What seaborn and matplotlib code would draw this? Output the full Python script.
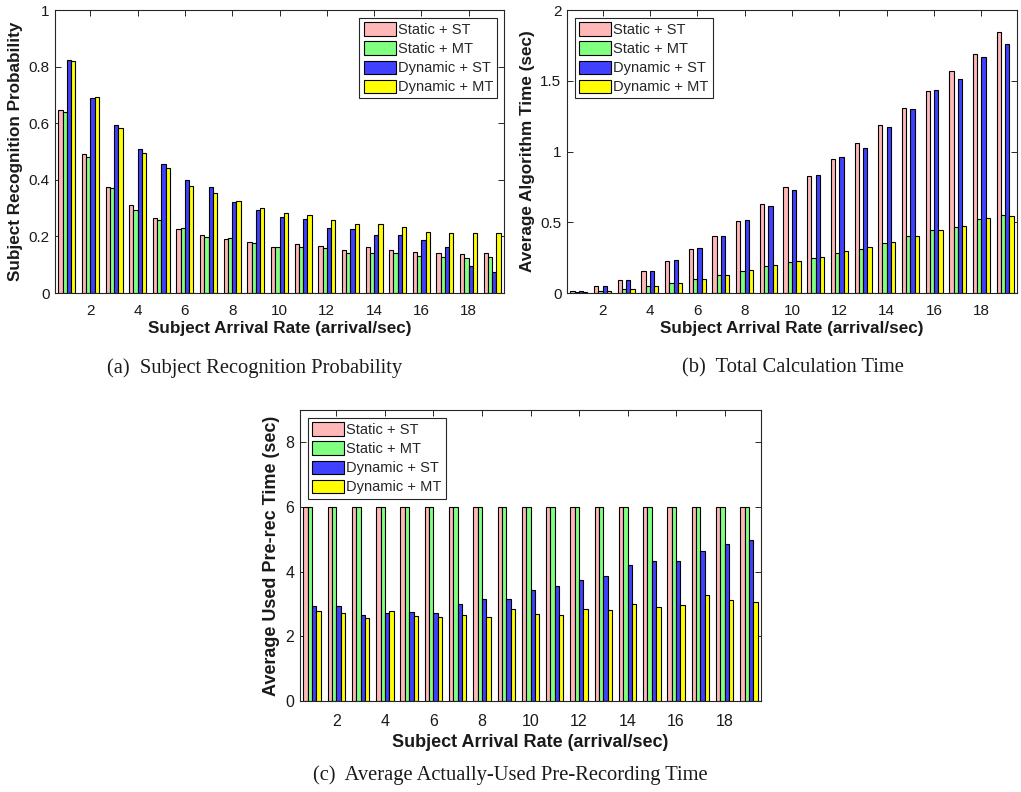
import matplotlib
matplotlib.use("Agg")
import matplotlib.pyplot as plt
from matplotlib import font_manager
import seaborn as sns
import pandas as pd

# ---------------- data ----------------
rates = list(range(1, 20))
methods = ["Static + ST", "Static + MT", "Dynamic + ST", "Dynamic + MT"]
tick_values = [2, 4, 6, 8, 10, 12, 14, 16, 18]

prob_static_st = [0.647, 0.490, 0.376, 0.310, 0.264, 0.226, 0.205, 0.192, 0.180, 0.163,
                  0.172, 0.167, 0.151, 0.161, 0.152, 0.146, 0.143, 0.138, 0.143]
prob_static_mt = [0.638, 0.480, 0.371, 0.293, 0.258, 0.230, 0.198, 0.194, 0.177, 0.164,
                  0.164, 0.159, 0.142, 0.140, 0.141, 0.129, 0.128, 0.124, 0.128]
prob_dynamic_st = [0.823, 0.688, 0.592, 0.510, 0.456, 0.398, 0.376, 0.323, 0.293, 0.269,
                   0.263, 0.230, 0.226, 0.204, 0.206, 0.188, 0.164, 0.096, 0.075]
prob_dynamic_mt = [0.820, 0.691, 0.583, 0.493, 0.442, 0.378, 0.353, 0.325, 0.300, 0.283,
                   0.274, 0.257, 0.244, 0.244, 0.234, 0.214, 0.213, 0.212, 0.212]

time_static_st = [0.014, 0.049, 0.094, 0.155, 0.228, 0.310, 0.400, 0.508, 0.626, 0.748,
                  0.826, 0.946, 1.059, 1.190, 1.306, 1.426, 1.569, 1.689, 1.843]
time_static_mt = [0.008, 0.016, 0.030, 0.052, 0.070, 0.099, 0.124, 0.153, 0.193, 0.216,
                  0.247, 0.282, 0.311, 0.353, 0.405, 0.442, 0.466, 0.522, 0.551]
time_dynamic_st = [0.014, 0.049, 0.094, 0.155, 0.233, 0.318, 0.400, 0.513, 0.612, 0.727,
                   0.837, 0.960, 1.028, 1.176, 1.299, 1.433, 1.513, 1.670, 1.762]
time_dynamic_mt = [0.008, 0.016, 0.030, 0.052, 0.070, 0.099, 0.127, 0.162, 0.195, 0.226,
                   0.256, 0.299, 0.325, 0.357, 0.402, 0.445, 0.475, 0.527, 0.546]

pre_static_st = [6.0, 6.0, 6.0, 6.0, 6.0, 6.0, 6.0, 6.0, 6.0, 6.0,
                 6.0, 6.0, 6.0, 6.0, 6.0, 6.0, 6.0, 6.0, 6.0]
pre_static_mt = [6.0, 6.0, 6.0, 6.0, 6.0, 6.0, 6.0, 6.0, 6.0, 6.0,
                 6.0, 6.0, 6.0, 6.0, 6.0, 6.0, 6.0, 6.0, 6.0]
pre_dynamic_st = [2.93, 2.94, 2.66, 2.72, 2.74, 2.73, 3.01, 3.14, 3.16, 3.44,
                  3.55, 3.74, 3.87, 4.21, 4.34, 4.32, 4.64, 4.85, 4.97]
pre_dynamic_mt = [2.77, 2.71, 2.57, 2.78, 2.64, 2.59, 2.65, 2.61, 2.86, 2.70,
                  2.65, 2.83, 2.80, 3.01, 2.90, 2.97, 3.29, 3.13, 3.05]

colors = ["#FFB8B8", "#80FF80", "#4040FF", "#FFFF00"]

# ---------------- style ----------------
sns.set_theme(style="ticks")
installed = {f.name for f in font_manager.fontManager.ttflist}
sans = "Liberation Sans" if "Liberation Sans" in installed else "DejaVu Sans"
serif = "Liberation Serif" if "Liberation Serif" in installed else "DejaVu Serif"
plt.rcParams["font.family"] = [sans, "DejaVu Sans"]
plt.rcParams["axes.edgecolor"] = "#262626"
plt.rcParams["axes.linewidth"] = 0.8

fig = plt.figure(figsize=(10.21, 7.92), dpi=100)
fig.patch.set_facecolor("white")


def make_df(series):
    rows = []
    for m, vals in zip(methods, series):
        for r, v in zip(rates, vals):
            rows.append({"rate": r, "value": v, "method": m})
    return pd.DataFrame(rows)


def panel(rect, series, ylim, yticks, yticklabels, ylabel, legend_loc, legend_anchor,
          tick_fs, label_fs, tick_pad, xlabelpad):
    ax = fig.add_axes(rect)
    df = make_df(series)
    sns.barplot(data=df, x="rate", y="value", hue="method", hue_order=methods,
                palette=colors, native_scale=True, width=0.72, gap=0,
                edgecolor="black", linewidth=0.8, saturation=1, ax=ax,
                errorbar=None)
    ax.set_xlim(0.5, 19.5)
    ax.set_ylim(*ylim)
    ax.set_xticks(tick_values)
    ax.set_xticklabels([str(t) for t in tick_values], fontsize=tick_fs)
    ax.set_yticks(yticks)
    ax.set_yticklabels(yticklabels, fontsize=tick_fs)
    ax.tick_params(direction="in", length=4, width=0.7, top=True, right=True,
                   colors="#262626", labelcolor="#1a1a1a")
    ax.tick_params(axis="x", pad=tick_pad)
    ax.tick_params(axis="y", pad=4)
    for s in ax.spines.values():
        s.set_visible(True)
        s.set_color("#262626")
    ax.set_xlabel("Subject Arrival Rate (arrival/sec)", fontsize=label_fs,
                  fontweight="bold", color="#1a1a1a", labelpad=xlabelpad)
    ax.set_ylabel(ylabel, fontsize=label_fs, fontweight="bold",
                  color="#1a1a1a", labelpad=4)
    handles, labels = ax.get_legend_handles_labels()
    leg = ax.legend(handles, labels, loc=legend_loc, bbox_to_anchor=legend_anchor,
                    borderaxespad=0, fancybox=False, framealpha=1, edgecolor="#262626",
                    prop={"size": 10.5}, handlelength=2.2,
                    handleheight=1.05, handletextpad=0.15, labelspacing=0.3,
                    borderpad=0.28)
    leg.get_frame().set_linewidth(0.8)
    return ax


panel([55 / 1021, 1 - 293 / 792, 449 / 1021, 283 / 792],
      [prob_static_st, prob_static_mt, prob_dynamic_st, prob_dynamic_mt],
      (0, 1), [0, 0.2, 0.4, 0.6, 0.8, 1.0], ["0", "0.2", "0.4", "0.6", "0.8", "1"],
      "Subject Recognition Probability", "upper right", (0.985, 0.971),
      11, 12.3, 8, 2)

panel([567 / 1021, 1 - 293 / 792, 450 / 1021, 283 / 792],
      [time_static_st, time_static_mt, time_dynamic_st, time_dynamic_mt],
      (0, 2), [0, 0.5, 1.0, 1.5, 2.0], ["0", "0.5", "1", "1.5", "2"],
      "Average Algorithm Time (sec)", "upper left", (0.018, 0.971),
      11, 12.3, 8, 2)

panel([300 / 1021, 1 - 701 / 792, 461 / 1021, 291 / 792],
      [pre_static_st, pre_static_mt, pre_dynamic_st, pre_dynamic_mt],
      (0, 9), [0, 2, 4, 6, 8], ["0", "2", "4", "6", "8"],
      "Average Used Pre-rec Time (sec)", "upper left", (0.017, 0.9715),
      11.5, 13, 9, 4)

fig.text(255 / 1021, 1 - 368 / 792, "(a)  Subject Recognition Probability",
         ha="center", va="center", fontsize=14.8, family=serif, color="#1a1a1a")
fig.text(793 / 1021, 1 - 368 / 792, "(b)  Total Calculation Time",
         ha="center", va="center", fontsize=14.8, family=serif, color="#1a1a1a")
fig.text(510 / 1021, 1 - 775 / 792, "(c)  Average Actually-Used Pre-Recording Time",
         ha="center", va="center", fontsize=14.8, family=serif, color="#1a1a1a")

fig.savefig("out.png", dpi=100, facecolor="white")
